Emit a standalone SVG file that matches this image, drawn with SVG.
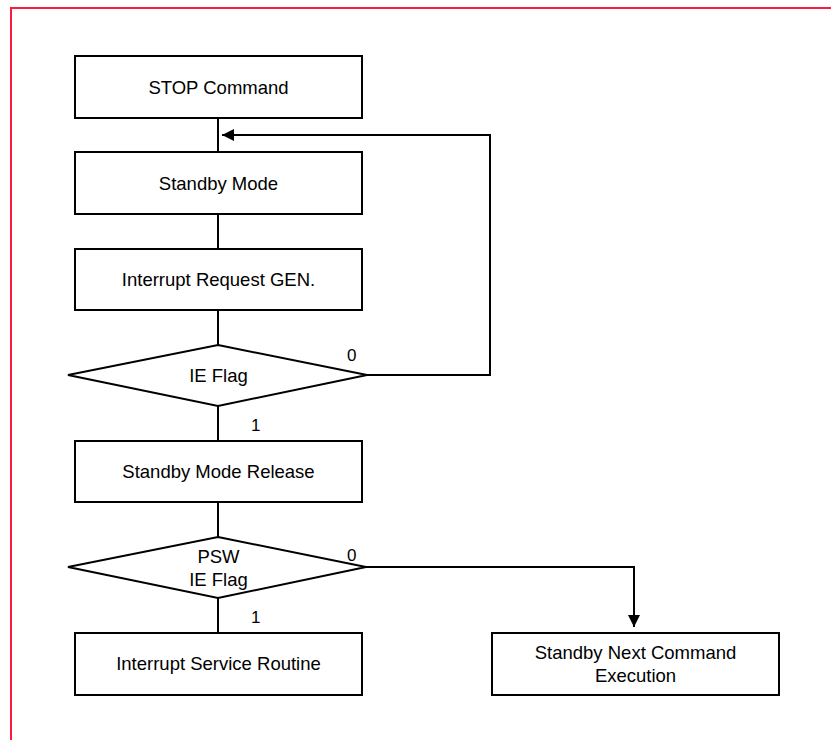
<svg xmlns="http://www.w3.org/2000/svg" width="831" height="740" viewBox="0 0 831 740">
<style>
.box{fill:#fff;stroke:#000;stroke-width:2}
.t{font-family:"Liberation Sans",Arial,sans-serif;font-size:18.5px;fill:#000;text-anchor:middle}
.l{font-family:"Liberation Sans",Arial,sans-serif;font-size:17px;fill:#000}
.c{fill:none;stroke:#000;stroke-width:2}
</style>
<defs>
<marker id="ah" viewBox="0 0 12 12" refX="12" refY="6" markerWidth="12" markerHeight="12" markerUnits="userSpaceOnUse" orient="auto">
<path d="M0,0 L12,6 L0,12 Z" fill="#000"/>
</marker>
</defs>
<rect width="831" height="740" fill="#fff"/>
<rect x="11" y="8" width="830" height="760" fill="none" stroke="#ff1a3d" stroke-width="2"/>
<g id="connectors">
<line class="c" x1="218" y1="118" x2="218" y2="152"/>
<line class="c" x1="218" y1="214" x2="218" y2="249"/>
<line class="c" x1="218" y1="310" x2="218" y2="345"/>
<line class="c" x1="218" y1="406" x2="218" y2="441"/>
<line class="c" x1="218" y1="502" x2="218" y2="537"/>
<line class="c" x1="218" y1="598" x2="218" y2="633"/>
<polyline class="c" points="367,375 490,375 490,135 222,135" marker-end="url(#ah)"/>
<polyline class="c" points="366,567 634,567 634,627" marker-end="url(#ah)"/>
<text class="l" x="347" y="361">0</text>
<text class="l" x="251" y="431">1</text>
<text class="l" x="347" y="561">0</text>
<text class="l" x="251" y="623">1</text>
</g>
<g id="stop">
<rect class="box" x="75" y="56" width="287" height="62"/>
<text class="t" x="218.5" y="94">STOP Command</text>
</g>
<g id="standby">
<rect class="box" x="75" y="152" width="287" height="62"/>
<text class="t" x="218.5" y="190">Standby Mode</text>
</g>
<g id="irq">
<rect class="box" x="75" y="249" width="287" height="61"/>
<text class="t" x="218.5" y="286">Interrupt Request GEN.</text>
</g>
<g id="ieflag">
<polygon class="box" points="218,345 367,375 218,406 68,375"/>
<text class="t" x="218.5" y="382">IE Flag</text>
</g>
<g id="release">
<rect class="box" x="75" y="441" width="287" height="61"/>
<text class="t" x="218.5" y="478">Standby Mode Release</text>
</g>
<g id="pswflag">
<polygon class="box" points="218,537 366,567 218,598 68,567"/>
<text class="t" x="218.5" y="563">PSW</text>
<text class="t" x="218.5" y="586">IE Flag</text>
</g>
<g id="isr">
<rect class="box" x="75" y="633" width="287" height="62"/>
<text class="t" x="218.5" y="670">Interrupt Service Routine</text>
</g>
<g id="next">
<rect class="box" x="492" y="633" width="287" height="62"/>
<text class="t" x="635.5" y="659">Standby Next Command</text>
<text class="t" x="635.5" y="682">Execution</text>
</g>
</svg>
